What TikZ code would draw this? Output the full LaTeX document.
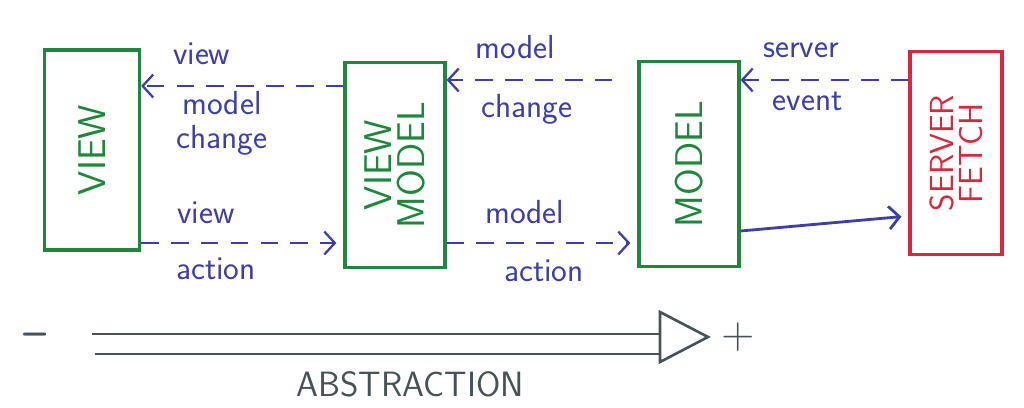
\documentclass[tikz,border=0pt]{standalone}
\usepackage{xcolor}
\usepackage{tikz}
\usetikzlibrary{arrows.meta,positioning,calc}
\definecolor{pengreen}{RGB}{30,135,60}
\definecolor{penblue}{RGB}{62,62,168}
\definecolor{penred}{RGB}{215,40,62}
\definecolor{pengrey}{RGB}{70,82,86}

\begin{document}
\begin{tikzpicture}[
    x=0.02cm, y=-0.02cm,
    box/.style={draw=pengreen,line width=1.8pt,minimum width=2cm,minimum height=4.1cm,text=pengreen,inner sep=0pt,font=\sffamily\fontsize{22}{24}\selectfont},
    lbl/.style={text=penblue,inner sep=2pt,font=\sffamily\fontsize{19}{20}\selectfont},
    flow/.style={draw=penblue,line width=1.3pt,dash pattern=on 10pt off 7pt,-{Straight Barb[length=6pt,width=13pt]}},
    bar/.style={draw=pengrey,line width=1.5pt},
    >=Latex
  ]
    \useasboundingbox (0,0) rectangle (1024,408);

    \node[box,minimum width=1.9cm,minimum height=4cm] (view) at (92,150) {\rotatebox{90}{VIEW}};
    \node[box] (vm) at (395,165) {\rotatebox{90}{\shortstack{VIEW\\MODEL}}};
    \node[box] (model) at (689,164) {\rotatebox{90}{MODEL}};
    \node[box,draw=penred,text=penred,minimum width=1.84cm,minimum height=4.06cm,font=\sffamily\fontsize{19}{22}\selectfont] (srv) at (956,153) {\rotatebox{90}{\shortstack{SERVER\\FETCH}}};

    % rows of the arrows
    \coordinate (rowA) at (0,86);
    \coordinate (rowB) at (0,243);
    \coordinate (rowC) at (0,80);
    \coordinate (rowD) at (0,231);
    \coordinate (rowE) at (0,216);

    \draw[flow] (vm.west |- rowA) -- node[lbl,above=0.33cm,pos=0.7] {view}
      node[lbl,below=0.02cm,pos=0.6,align=center] {model\\[-1pt]change} (view.east |- rowA);
    \draw[flow,shorten >=4pt] (view.east |- rowB) -- node[lbl,above=0.3cm,pos=0.32] {view}
      node[lbl,below=0.2cm,pos=0.37] {action} (vm.west |- rowB);
    \draw[flow,shorten <=0.5cm] (model.west |- rowC) -- node[lbl,above=0.33cm,pos=0.64] {model}
      node[lbl,below=0.2cm,pos=0.58] {change} (vm.east |- rowC);
    \draw[flow,shorten >=4pt] (vm.east |- rowB) -- node[lbl,above=0.3cm,pos=0.41] {model}
      node[lbl,below=0.25cm,pos=0.51] {action} (model.west |- rowB);
    \draw[flow] (srv.west |- rowC) -- node[lbl,above=0.35cm,pos=0.64] {server}
      node[lbl,below=0.15cm,pos=0.6] {event} (model.east |- rowC);
    \draw[flow,solid,line width=1.6pt,shorten >=4pt] (model.east |- rowD) -- (srv.west |- rowE);

    % abstraction scale
    \coordinate (tri) at (660,337);
    \coordinate (tail1) at (92,334);
    \coordinate (tail2) at (95,354);
    \draw[bar] (tri) ++(0,-25) -- ++(0,50) -- ++(48,-25) -- cycle;
    \draw[bar] (tail1) -- (tri |- tail1);
    \draw[bar] (tail2) -- (tri |- tail2);
    \node[text=pengrey,font=\sffamily\bfseries\fontsize{24}{24}\selectfont] (minus) at (35,340) {--};
    \node[text=pengrey,font=\sffamily\fontsize{26}{28}\selectfont] (plus) at (738,337) {+};
    \node[text=pengrey,font=\sffamily\fontsize{20}{22}\selectfont] (abs) at (410,384) {ABSTRACTION};
  \end{tikzpicture}
\end{document}
